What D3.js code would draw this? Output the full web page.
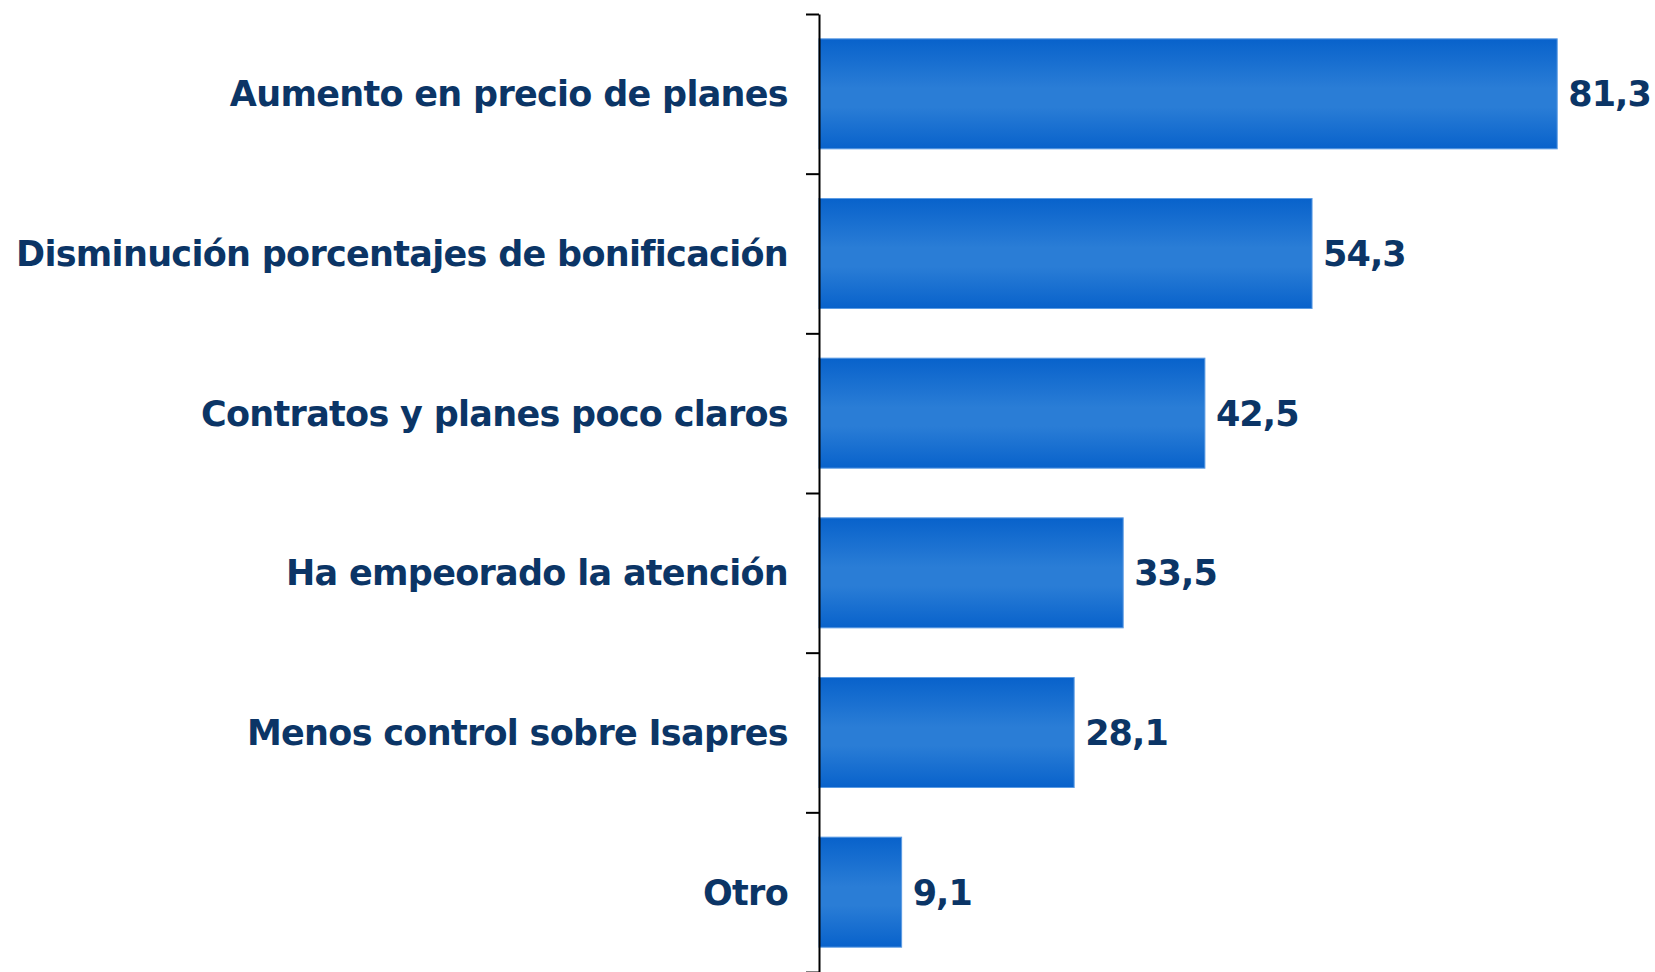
<!DOCTYPE html>
<html>
<head>
<meta charset="utf-8">
<script src="https://cdn.jsdelivr.net/npm/d3@7"></script>
<style>
  html, body { margin: 0; padding: 0; background: #ffffff; }
  svg { display: block; }
</style>
</head>
<body>
<svg id="chart" width="1655" height="972"></svg>
<script>
const categories = [
  "Aumento en precio de planes",
  "Disminución porcentajes de bonificación",
  "Contratos y planes poco claros",
  "Ha empeorado la atención",
  "Menos control sobre Isapres",
  "Otro"
];
const values = [81.3, 54.3, 42.5, 33.5, 28.1, 9.1];
const valueLabels = ["81,3", "54,3", "42,5", "33,5", "28,1", "9,1"];

(function () {
const axisX = 819, yTop = 14, yBottom = 972;
const svg = d3.select("#chart");

const defs = svg.append("defs");
const grad = defs.append("linearGradient")
  .attr("id", "barGrad").attr("x1", 0).attr("y1", 0).attr("x2", 0).attr("y2", 1);
grad.append("stop").attr("offset", "0%").attr("stop-color", "#0862cb");
grad.append("stop").attr("offset", "45%").attr("stop-color", "#2a7dd6");
grad.append("stop").attr("offset", "62%").attr("stop-color", "#2a7dd6");
grad.append("stop").attr("offset", "100%").attr("stop-color", "#0862cb");

const x = d3.scaleLinear().domain([0, 90]).range([axisX, axisX + 90 * 9.08]);
const y = d3.scaleBand().domain(categories).range([yTop, yBottom])
  .paddingInner(0.311).paddingOuter(0.1555);

svg.append("g").selectAll("rect").data(categories).join("rect")
  .attr("x", x(0))
  .attr("y", d => y(d))
  .attr("width", (d, i) => x(values[i]) - x(0))
  .attr("height", y.bandwidth())
  .attr("fill", "url(#barGrad)")
  .attr("stroke", "#5b9be3")
  .attr("stroke-width", 1);

svg.append("g").selectAll("text").data(categories).join("text")
  .attr("x", (d, i) => x(values[i]) + 11)
  .attr("y", d => y(d) + y.bandwidth() / 2)
  .attr("dy", "0.36em")
  .attr("font-family", "DejaVu Sans")
  .attr("font-weight", "bold")
  .attr("font-size", 35)
  .attr("letter-spacing", -0.9)
  .attr("fill", "#0b3566")
  .text((d, i) => valueLabels[i]);

svg.append("g").selectAll("text").data(categories).join("text")
  .attr("x", axisX - 31)
  .attr("y", d => y(d) + y.bandwidth() / 2)
  .attr("dy", "0.36em")
  .attr("text-anchor", "end")
  .attr("font-family", "DejaVu Sans")
  .attr("font-weight", "bold")
  .attr("font-size", 35)
  .attr("letter-spacing", -0.7)
  .attr("fill", "#0b3566")
  .text(d => d);

const yb = d3.scaleLinear().domain([0, categories.length]).range([yTop, yBottom]);
const axis = d3.axisLeft(yb).tickValues(d3.range(0, categories.length + 1))
  .tickFormat("").tickSize(13).tickSizeOuter(0);
const ga = svg.append("g").attr("transform", `translate(${axisX},0)`).call(axis);
ga.select(".domain").attr("stroke", "#000").attr("stroke-width", 2);
ga.selectAll(".tick line").attr("stroke", "#000").attr("stroke-width", 2);
})();
</script>
</body>
</html>
